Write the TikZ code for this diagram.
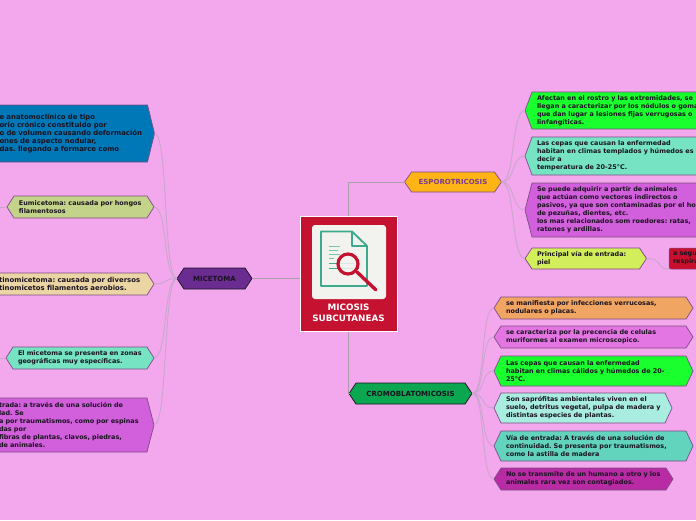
\documentclass[tikz,border=0pt]{standalone}
\usepackage{fontspec}
\setmainfont{DejaVu Sans}
\usepackage{tikz}
\usetikzlibrary{shapes.symbols}
\definecolor{pagebg}{HTML}{F3A8EE}
\definecolor{linegray}{HTML}{C8A6CE}
\definecolor{stemgray}{HTML}{A99FAC}
\definecolor{edgeplum}{HTML}{7D4C85}
\definecolor{mainred}{HTML}{C41230}
\definecolor{icongreen}{HTML}{3DAA8E}
\definecolor{paperwhite}{HTML}{F2F3EE}
\definecolor{inkdark}{HTML}{1A1320}
\definecolor{cmice}{HTML}{6A2C91}
\definecolor{cblue}{HTML}{0077B6}
\definecolor{colive}{HTML}{C4D38A}
\definecolor{csand}{HTML}{EBD5A5}
\definecolor{cmint}{HTML}{76E4C3}
\definecolor{cviolet}{HTML}{D25FDB}
\definecolor{camber}{HTML}{FDB414}
\definecolor{cplum}{HTML}{7A3B8F}
\definecolor{cgreen}{HTML}{1AFF2E}
\definecolor{clime}{HTML}{D2EE5A}
\definecolor{cred}{HTML}{C8102E}
\definecolor{cforest}{HTML}{0AA650}
\definecolor{corange}{HTML}{F0A562}
\definecolor{corchid}{HTML}{E476E3}
\definecolor{cice}{HTML}{A9ECE0}
\definecolor{cteal}{HTML}{62D3BD}
\definecolor{cberry}{HTML}{B92BA5}
\frenchspacing
\tikzset{
  hexa/.code n args={3}{%
    \pgfmathsetmacro\tipangle{2*atan(#2/14)}%
    \pgfmathsetmacro\textw{#1-24}%
    \tikzset{shape=signal, signal to=east and west, signal pointer angle=\tipangle,
      minimum width=#1pt, minimum height=#2pt, text width=\textw pt,
      inner sep=0pt, outer sep=0pt, align=left, fill=#3, draw=edgeplum, line width=.7pt,
      font=\fontsize{6.45}{8}\selectfont\bfseries, text=inkdark}},
  topic/.style={align=center, font=\fontsize{7}{8}\selectfont\bfseries},
  widetext/.style={font=\fontsize{6.9}{8}\selectfont\bfseries},
  twig/.style={draw=linegray, line width=.9pt},
  stem/.style={draw=stemgray, line width=1pt}
}
\begin{document}
\begin{tikzpicture}[x=1pt,y=-1pt]
\useasboundingbox (0,0) rectangle (696,520);
\fill[pagebg] (0,0) rectangle (696,520);
% left branch
\node[hexa={75}{21}{cmice}, topic, draw=inkdark] (mice) at (214.5,278.5) {MICETOMA};
\node[hexa={167}{57}{cblue}, widetext] (midef) at (71,133.5) {e anatomoclínico de tipo\\orio crónico constituido por\\o de volumen causando deformación\\ones de aspecto nodular,\\das. llegando a formarce como};
\node[hexa={147}{22}{colive}] (eumi) at (80.5,207) {Eumicetoma: causada por hongos\\filamentosos};
\node[hexa={167}{22}{csand}, widetext] (acti) at (70.5,284) {tinomicetoma: causada por diversos\\tinomicetos filamentos aerobios.};
\node[hexa={148}{22}{cmint}] (zona) at (80,358) {El micetoma se presenta en zonas\\geográficas muy específicas.};
\node[hexa={167}{54}{cviolet}] (entra) at (70.5,425) {trada: a través de una solución de\\lad. Se\\a por traumatismos, como por espinas\\das por\\fibras de plantas, clavos, piedras,\\de animales.};
\coordinate (eumioff) at (-8,207);
\coordinate (zonaoff) at (-8,358);
\foreach \kid in {midef,eumi,acti,zona,entra}
  \draw[twig] (mice.west) .. controls +(-14,0) and +(14,0) .. (\kid.east);
\draw[twig] (eumi.west) -- (eumioff);
\draw[twig] (zona.west) -- (zonaoff);
% top right branch
\node[hexa={97}{20}{camber}, topic, text=cplum] (espo) at (453,182) {ESPOROTRICOSIS};
\node[hexa={200}{37}{cgreen}] (espo1) at (625,110.5) {Afectan en el rostro y las extremidades, se\\llegan a caracterizar por los nódulos o goma\\que dan lugar a lesiones fijas verrugosas o\\linfangíticas.};
\node[hexa={200}{38}{cmint}] (espo2) at (625,156) {Las cepas que causan la enfermedad\\habitan en climas templados y húmedos es\\decir a\\temperatura de 20-25°C.};
\node[hexa={200}{54}{cviolet}] (espo3) at (625,210) {Se puede adquirir a partir de animales\\que actúan como vectores indirectos o\\pasivos, ya que son contaminadas por el ho\\de pezuñas, dientes, etc.\\los mas relacionados som roedores: ratas,\\ratones y ardillas.};
\node[hexa={121.5}{21}{clime}] (espo4) at (585.75,258.5) {Principal vía de entrada:\\piel};
\node[fill=cred, draw=edgeplum, line width=.5pt, rounded corners=2pt, minimum width=60pt, minimum height=21pt, inner sep=0pt, text width=52pt, align=left, font=\fontsize{6.45}{8}\selectfont\bfseries, text=inkdark] (resp) at (699,258.5) {a segu\\respira};
\foreach \kid in {espo1,espo2,espo3,espo4}
  \draw[twig] (espo.east) .. controls +(14,0) and +(-14,0) .. (\kid.west);
\draw[twig] (espo4.east) .. controls +(16,0) and +(-12,0) .. (resp.south west);
% bottom right branch
\node[hexa={123}{21}{cforest}, topic, draw=inkdark] (crom) at (410.5,393.5) {CROMOBLATOMICOSIS};
\node[hexa={199}{22}{corange}] (crom1) at (593.5,308) {se manifiesta por infecciones verrucosas,\\nodulares o placas.};
\node[hexa={199}{22}{corchid}] (crom2) at (593.5,337) {se caracteriza por la precencia de celulas\\muriformes al examen microscopico.};
\node[hexa={199}{30}{cgreen}] (crom3) at (593.5,371) {Las cepas que causan la enfermedad\\habitan en climas cálidos y húmedos de 20-\\25°C.};
\node[hexa={178}{30}{cice}] (crom4) at (583,408) {Son saprófitas ambientales viven en el\\\mbox{suelo, detritus vegetal, pulpa de madera y}\\distintas especies de plantas.};
\node[hexa={199}{30}{cteal}] (crom5) at (593.5,446) {Vía de entrada: A través de una solución de\\continuidad. Se presenta por traumatismos,\\como la astilla de madera};
\node[hexa={179}{22}{cberry}] (crom6) at (583.5,479) {No se transmite de un humano a otro y los\\animales  rara vez son contagiados.};
\foreach \kid in {crom1,crom2,crom3,crom4,crom5,crom6}
  \draw[twig] (crom.east) .. controls +(14,0) and +(-14,0) .. (\kid.west);
% central card
\node[fill=mainred, draw=white, line width=1pt, minimum width=97pt, minimum height=115pt, inner sep=0pt] (card) at (348.5,273.5) {};
\draw[stem] (card.west |- mice.east) -- (mice.east);
\draw[stem] (card.north) -- (card.north |- espo.west) -- (espo.west);
\draw[stem] (card.south) -- (card.south |- crom.west) -- (crom.west);
\fill[paperwhite, rounded corners=3pt] (312,225) rectangle (386,299);
\draw[icongreen, line width=1.9pt, line join=round] (352,231.5) -- (321,231.5) -- (321,286) -- (367,286) -- (367,246) -- (352,231.5) -- (352,246) -- (367,246);
\foreach \ly/\lx in {246/340,250/338,254/340,258/334}
  \draw[icongreen!70, line width=.7pt] (329,\ly) -- (\lx,\ly);
\foreach \ly in {263,268}
  \draw[icongreen, line width=.9pt] (329,\ly) -- (354,\ly);
\draw[mainred, line width=3.4pt, line cap=round] (357,272) -- (376,290);
\draw[mainred, line width=3.2pt, fill=paperwhite, fill opacity=.85] (348,264) circle (10);
\node[text=white, font=\fontsize{8.8}{11}\selectfont\bfseries, align=center, inner sep=0pt] (title) at (348.5,312.5) {MICOSIS\\SUBCUTANEAS};
\end{tikzpicture}
\end{document}
